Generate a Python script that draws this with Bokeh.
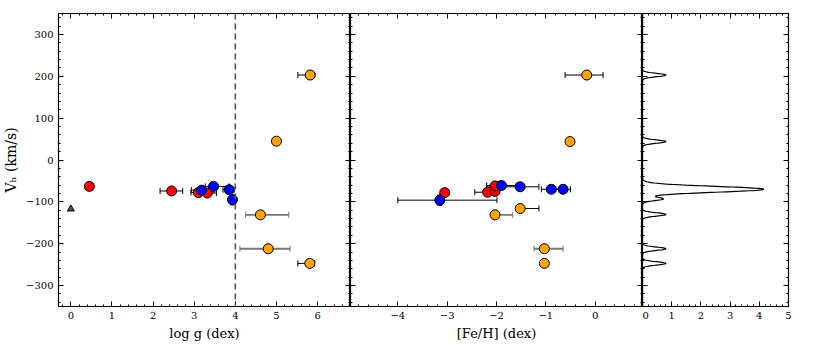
import numpy as np
from bokeh.plotting import figure
from bokeh.layouts import row
from bokeh.models import (Range1d, LinearAxis, Span, Whisker, ColumnDataSource,
                          TeeHead, SingleIntervalTicker, CustomJSTickFormatter)
from bokeh.embed import file_html
from bokeh.resources import INLINE

# ---------------- data ----------------
# Left panel: log g vs V_h
lg_red_x = [0.45, 2.45, 3.10, 3.32]
lg_red_y = [-63, -74, -78, -79]
lg_red_xlo = [0.0, 0.28, 0.18, 0.22]
lg_red_xhi = [0.0, 0.27, 0.18, 0.22]

lg_blue_x = [3.18, 3.47, 3.85, 3.93]
lg_blue_y = [-72, -63, -71, -95]
lg_blue_xlo = [0.25, 0.20, 0.15, 0.08]
lg_blue_xhi = [0.30, 0.38, 0.12, 0.06]
lg_blue_yerr = [0, 0, 0, 12]

lg_orange_x = [5.82, 5.00, 4.61, 4.80, 5.81]
lg_orange_y = [203, 45, -131, -212, -247]
lg_orange_xlo = [0.30, 0.0, 0.36, 0.69, 0.29]
lg_orange_xhi = [0.11, 0.0, 0.69, 0.53, 0.12]
lg_orange_yerr = [10, 0, 0, 0, 0]

lg_tri_x = [0.0]
lg_tri_y = [-117]
logg_cut = 4.0

# Middle panel: [Fe/H] vs V_h
fe_red_x = [-3.05, -2.18, -2.03, -2.03]
fe_red_y = [-78, -77, -75, -62]
fe_red_xlo = [0.0, 0.26, 0.0, 0.17]
fe_red_xhi = [0.0, 0.0, 0.0, 0.0]
fe_red_yerr = [6, 0, 0, 0]

fe_blue_x = [-3.15, -1.90, -1.52, -0.89, -0.65]
fe_blue_y = [-96, -61, -64, -70, -70]
fe_blue_xlo = [0.85, 0.30, 0.38, 0.20, 0.15]
fe_blue_xhi = [1.16, 0.30, 0.38, 0.20, 0.15]
fe_blue_yerr = [12, 0, 0, 0, 0]

fe_orange_x = [-0.17, -0.51, -1.52, -2.03, -1.03, -1.03]
fe_orange_y = [203, 44, -116, -131, -212, -247]
fe_orange_xlo = [0.44, 0.0, 0.0, 0.0, 0.21, 0.0]
fe_orange_xhi = [0.33, 0.0, 0.38, 0.36, 0.38, 0.0]
fe_orange_yerr = [10, 0, 0, 0, 0, 0]

# Right panel: velocity distribution (components)
dist_centers = [203, 44, -70, -93, -130, -212, -247]
dist_heights = [0.80, 0.80, 4.15, 0.70, 0.80, 0.80, 0.80]
dist_widths = [4.0, 4.0, 7.0, 4.0, 4.0, 4.0, 4.0]

# ---------------- style ----------------
FONT = "DejaVu Serif"
TICK_SIZE = "10px"
LABEL_SIZE = "13px"
RED = "#ff0000"
BLUE = "#0000ff"
ORANGE = "#ffa500"
FRAME_H = 293
EMPTY = CustomJSTickFormatter(code="return ''")

def make_axis(ticker, labels):
    ax = LinearAxis(ticker=ticker)
    ax.major_tick_in = 5
    ax.major_tick_out = 0
    ax.minor_tick_in = 2
    ax.minor_tick_out = 0
    ax.axis_line_color = None
    ax.major_tick_line_color = "black"
    ax.minor_tick_line_color = "black"
    ax.major_label_text_font = FONT
    ax.major_label_text_color = "black"
    ax.axis_label_text_font = FONT
    ax.axis_label_text_font_style = "normal"
    ax.axis_label_text_color = "black"
    ax.axis_label_text_font_size = LABEL_SIZE
    if labels:
        ax.major_label_text_font_size = TICK_SIZE
        ax.major_label_standoff = 5
        ax.axis_label_standoff = 4
    else:
        ax.formatter = EMPTY
        ax.major_label_text_font_size = "0px"
        ax.major_label_standoff = 0
        ax.axis_label_standoff = 0
    return ax


def make_fig(xr, width, xint, left_labels, xlabel, ylabel=None, border_left=0):
    p = figure(frame_width=width, frame_height=FRAME_H,
               x_range=Range1d(*xr), y_range=Range1d(-350, 350),
               output_backend="svg", toolbar_location=None,
               x_axis_location=None, y_axis_location=None,
               min_border_left=border_left, min_border_right=0,
               min_border_top=13, min_border_bottom=0)
    p.grid.visible = False
    p.outline_line_color = "black"
    p.outline_line_width = 1.2
    p.background_fill_color = "white"
    p.border_fill_color = "white"
    xt = SingleIntervalTicker(interval=xint, num_minor_ticks=5)
    yt = SingleIntervalTicker(interval=100, num_minor_ticks=5)
    bx = make_axis(xt, True)
    bx.axis_label = xlabel
    p.add_layout(bx, "below")
    p.add_layout(make_axis(xt, False), "above")
    ly = make_axis(yt, left_labels)
    if ylabel:
        ly.axis_label = ylabel
        ly.axis_label_text_font_size = "14px"
    p.add_layout(ly, "left")
    p.add_layout(make_axis(yt, False), "right")
    return p


def add_errors(p, xs, ys, xlo, xhi, yerr=None, color="black", width=1.0, grey_idx=()):
    for i, (x, y, a, b) in enumerate(zip(xs, ys, xlo, xhi)):
        if a > 0 or b > 0:
            c = "#777777" if i in grey_idx else color
            lw = 1.8 if i in grey_idx else width
            src = ColumnDataSource(dict(base=[y], lower=[x - a], upper=[x + b]))
            p.add_layout(Whisker(source=src, base="base", lower="lower", upper="upper",
                                 dimension="width", line_color=c, line_width=lw,
                                 lower_head=TeeHead(size=6, line_color=c, line_width=1),
                                 upper_head=TeeHead(size=6, line_color=c, line_width=1)))
    if yerr is not None:
        for x, y, e in zip(xs, ys, yerr):
            if e > 0:
                src = ColumnDataSource(dict(base=[x], lower=[y - e], upper=[y + e]))
                p.add_layout(Whisker(source=src, base="base", lower="lower", upper="upper",
                                     dimension="height", line_color=color, line_width=width,
                                     lower_head=TeeHead(size=5, line_color=color, line_width=1),
                                     upper_head=TeeHead(size=5, line_color=color, line_width=1)))


def pts(p, xs, ys, col):
    p.scatter(xs, ys, size=10, fill_color=col, line_color="black", line_width=1)


# ---------------- left panel ----------------
p1 = make_fig((-0.3, 6.8), 292, 1, True, "log g (dex)", "Vₕ (km/s)", border_left=52)
p1.add_layout(Span(location=logg_cut, dimension="height", line_color="#555555",
                   line_dash="6 4", line_width=1.6))
add_errors(p1, lg_red_x, lg_red_y, lg_red_xlo, lg_red_xhi)
add_errors(p1, lg_blue_x, lg_blue_y, lg_blue_xlo, lg_blue_xhi, lg_blue_yerr)
add_errors(p1, lg_orange_x, lg_orange_y, lg_orange_xlo, lg_orange_xhi, lg_orange_yerr,
           grey_idx=(2, 3))
p1.scatter(lg_tri_x, lg_tri_y, marker="triangle", size=7, fill_color="#555555",
           line_color="black", line_width=1)
pts(p1, lg_red_x, lg_red_y, RED)
pts(p1, lg_blue_x, lg_blue_y, BLUE)
pts(p1, lg_orange_x, lg_orange_y, ORANGE)

# ---------------- middle panel ----------------
p2 = make_fig((-4.96, 0.96), 292, 1, False, "[Fe/H] (dex)")
add_errors(p2, fe_red_x, fe_red_y, fe_red_xlo, fe_red_xhi, fe_red_yerr)
add_errors(p2, fe_blue_x, fe_blue_y, fe_blue_xlo, fe_blue_xhi, fe_blue_yerr)
add_errors(p2, fe_orange_x, fe_orange_y, fe_orange_xlo, fe_orange_xhi, fe_orange_yerr,
           grey_idx=(3, 4))
pts(p2, fe_red_x, fe_red_y, RED)
pts(p2, fe_blue_x, fe_blue_y, BLUE)
pts(p2, fe_orange_x, fe_orange_y, ORANGE)

# ---------------- right panel ----------------
p3 = make_fig((0, 5), 146, 1, False, " ")
p3.min_border_right = 10
v = np.arange(-350, 350.5, 0.5)
dens = np.zeros_like(v)
for c, h, w in zip(dist_centers, dist_heights, dist_widths):
    dens += h * np.exp(-0.5 * ((v - c) / w) ** 2)
p3.line(dens, v, line_color="black", line_width=1.2)

layout = row(p1, p2, p3, spacing=0)
open("out.html", "w").write(file_html(layout, INLINE))
